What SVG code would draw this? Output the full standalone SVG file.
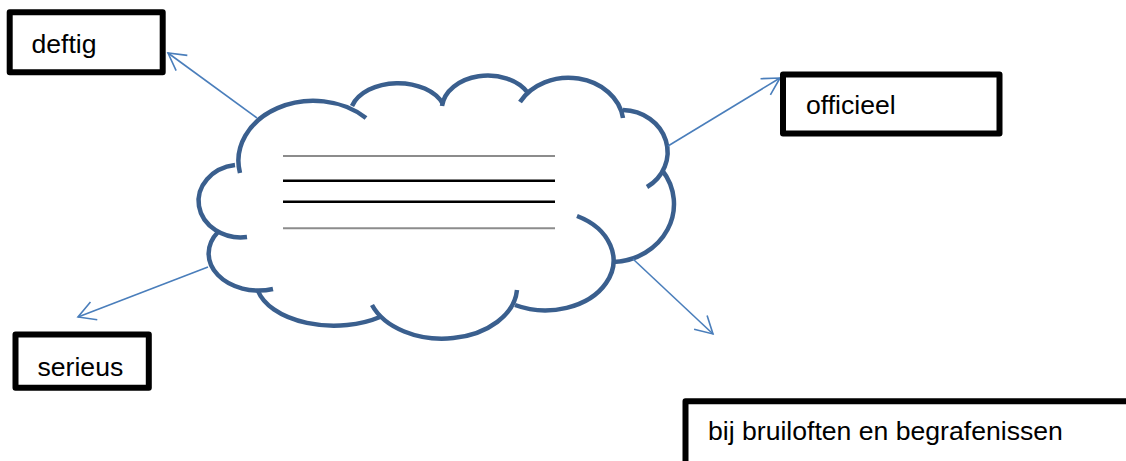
<svg xmlns="http://www.w3.org/2000/svg" width="1126" height="461" viewBox="0 0 1126 461">
<style>
.box{fill:#fff;stroke:#000;stroke-width:6;stroke-linejoin:round}
.lbl{font-family:"Liberation Sans",Arial,sans-serif;font-size:26.6px;fill:#000}
.lobe{fill:none;stroke:#3A5F8E;stroke-width:4.5;stroke-linecap:butt}
.conn{fill:none;stroke:#4A7EBB;stroke-width:1.6;marker-end:url(#arr)}
</style>
<defs>
<marker id="arr" markerUnits="userSpaceOnUse" markerWidth="22" markerHeight="24" refX="19" refY="11" orient="auto" overflow="visible">
<path d="M2 1.5 L19 11 L2 20.5" fill="none" stroke="#4A7EBB" stroke-width="1.6"/>
</marker>
</defs>
<rect width="1126" height="461" fill="#fff"/>
<g id="cloud">
<path class="lobe" d="M240 173 A75 60 0 0 1 366 118"/>
<path class="lobe" d="M352 106 A48 32 0 0 1 443 104"/>
<path class="lobe" d="M442 106 A46 34 0 0 1 528 93"/>
<path class="lobe" d="M520 102 A55 46 0 0 1 623 118"/>
<path class="lobe" d="M623 110 A46 42 0 0 1 647 187"/>
<path class="lobe" d="M662 170 A63 58 0 0 1 613 262"/>
<path class="lobe" d="M577 216 A68 50 0 0 1 515 305"/>
<path class="lobe" d="M517 290 A75 52 0 0 1 372 305"/>
<path class="lobe" d="M380 317 A78 45 0 0 1 258 291"/>
<path class="lobe" d="M273 289 A50 37 0 0 1 218 232"/>
<path class="lobe" d="M247 237 A42 36 0 1 1 235 165"/>
<line x1="283" y1="156" x2="555" y2="156" stroke="#8C8C8C" stroke-width="2"/>
<line x1="283" y1="180.7" x2="555" y2="180.7" stroke="#000" stroke-width="2.6"/>
<line x1="283" y1="201.7" x2="555" y2="201.7" stroke="#000" stroke-width="2.6"/>
<line x1="283" y1="228.3" x2="555" y2="228.3" stroke="#8C8C8C" stroke-width="2"/>
</g>
<g id="connectors">
<line class="conn" x1="257" y1="118" x2="168" y2="53"/>
<line class="conn" x1="668" y1="146" x2="780" y2="78"/>
<line class="conn" x1="208" y1="267" x2="78" y2="317"/>
<line class="conn" x1="633" y1="259" x2="713" y2="334"/>
</g>
<g id="deftig">
<rect class="box" x="9.7" y="12.2" width="153" height="60"/>
<text class="lbl" x="31.5" y="53">deftig</text>
</g>
<g id="officieel">
<rect class="box" x="783" y="74.5" width="216.5" height="59"/>
<text class="lbl" x="806" y="114">officieel</text>
</g>
<g id="serieus">
<rect class="box" x="15.5" y="334.5" width="133.3" height="53.3"/>
<text class="lbl" x="37.5" y="376">serieus</text>
</g>
<g id="bruiloften">
<rect class="box" x="685.5" y="401.2" width="500" height="100"/>
<text class="lbl" x="708" y="440">bij bruiloften en begrafenissen</text>
</g>
</svg>
